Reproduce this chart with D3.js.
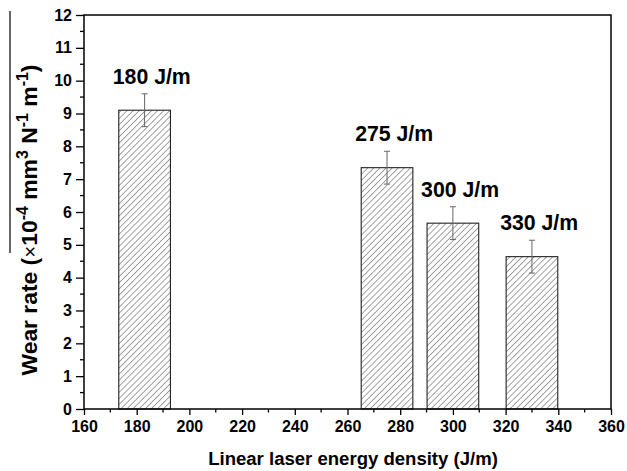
<!DOCTYPE html>
<html><head><meta charset="utf-8">
<script src="https://cdn.jsdelivr.net/npm/d3@7"></script>
<style>body{margin:0;background:#fff}svg{display:block}text{font-family:Arial,"Liberation Sans",sans-serif}</style>
</head><body>
<script>
// ---- data ----
const barX = [183, 275, 300, 330];           // bar centres (J/m)
const wearRate = [9.1, 7.35, 5.66, 4.64];     // ×10^-4 mm^3 N^-1 m^-1
const errors = [0.5, 0.5, 0.5, 0.5];
const barLabels = ["180 J/m", "275 J/m", "300 J/m", "330 J/m"];
const barWidthUnits = 19.6;
const xTicks = [160,180,200,220,240,260,280,300,320,340,360];
const yTicks = [0,1,2,3,4,5,6,7,8,9,10,11,12];

const W = 627, H = 471;
const svg = d3.select("body").append("svg").attr("width", W).attr("height", H);
const L = 84, R = 611, T = 15, B = 409;
const x = d3.scaleLinear().domain([160,360]).range([L,R]);
const y = d3.scaleLinear().domain([0,12]).range([B,T]);

// fit text to a target length by scaling its font size
function fitSize(sel, target){
  sel.each(function(){
    const fs = parseFloat(d3.select(this).attr("font-size"));
    const len = this.getComputedTextLength();
    d3.select(this).attr("font-size", fs*target/len);
  });
}

// hatch pattern
const defs = svg.append("defs");
const hs = 4.3;
const pat = defs.append("pattern").attr("id","hatch").attr("patternUnits","userSpaceOnUse")
  .attr("width",hs).attr("height",hs).attr("patternTransform","rotate(45)");
pat.append("rect").attr("width",hs).attr("height",hs).attr("fill","#fff");
pat.append("line").attr("x1",0).attr("y1",0).attr("x2",0).attr("y2",hs)
  .attr("stroke","#333").attr("stroke-width",0.9);

// bars
const data = barX.map((v,i)=>({x:v,y:wearRate[i],e:errors[i],label:barLabels[i]}));
svg.selectAll("rect.bar").data(data).join("rect").attr("class","bar")
  .attr("x", d=>x(d.x-barWidthUnits/2)).attr("width", d=>x(d.x+barWidthUnits/2)-x(d.x-barWidthUnits/2))
  .attr("y", d=>y(d.y)).attr("height", d=>y(0)-y(d.y))
  .attr("fill","url(#hatch)").attr("stroke","#222").attr("stroke-width",1.1);

// error bars
const eb = svg.selectAll("g.err").data(data).join("g").attr("class","err")
  .attr("stroke","#666").attr("stroke-width",1).attr("fill","none");
eb.append("line").attr("x1",d=>x(d.x)).attr("x2",d=>x(d.x)).attr("y1",d=>y(d.y+d.e)).attr("y2",d=>y(d.y-d.e));
eb.append("line").attr("x1",d=>x(d.x)-3).attr("x2",d=>x(d.x)+3).attr("y1",d=>y(d.y+d.e)).attr("y2",d=>y(d.y+d.e));
eb.append("line").attr("x1",d=>x(d.x)-3).attr("x2",d=>x(d.x)+3).attr("y1",d=>y(d.y-d.e)).attr("y2",d=>y(d.y-d.e));

// bar labels
svg.selectAll("text.bl").data(data).join("text").attr("class","bl")
  .attr("x", d=>x(d.x-barWidthUnits/2)-6).attr("y", d=>y(d.y+d.e)-10)
  .attr("font-size",19).attr("font-weight","bold").attr("fill","#000").text(d=>d.label)
  .call(fitSize, 78);

// axes
const xAxis = svg.append("g").attr("transform",`translate(0,${B})`)
  .call(d3.axisBottom(x).tickValues(xTicks).tickFormat(d3.format("d")).tickSize(6).tickPadding(6));
const yAxis = svg.append("g").attr("transform",`translate(${L},0)`)
  .call(d3.axisLeft(y).tickValues(yTicks).tickFormat(d3.format("d")).tickSize(8).tickPadding(4));
[xAxis,yAxis].forEach(g=>{
  g.select(".domain").remove();
  g.selectAll(".tick line").attr("stroke","#000").attr("stroke-width",1.3);
  g.selectAll(".tick text").attr("font-size",16).attr("font-weight","bold").attr("fill","#000")
   .style("font-family","Arial, 'Liberation Sans', sans-serif");
});
// minor ticks
const xMinor = d3.range(170,360,20);
svg.append("g").selectAll("line").data(xMinor).join("line")
  .attr("x1",d=>x(d)).attr("x2",d=>x(d)).attr("y1",B).attr("y2",B+3.5).attr("stroke","#000").attr("stroke-width",1.3);
const yMinor = d3.range(0.5,12,1);
svg.append("g").selectAll("line").data(yMinor).join("line")
  .attr("x1",L-4).attr("x2",L).attr("y1",d=>y(d)).attr("y2",d=>y(d)).attr("stroke","#000").attr("stroke-width",1.3);

// frame
svg.append("rect").attr("x",L).attr("y",T).attr("width",R-L).attr("height",B-T)
  .attr("fill","none").attr("stroke","#000").attr("stroke-width",1.5);

// axis titles
svg.append("text").attr("x",(208+498)/2).attr("y",465).attr("text-anchor","middle")
  .attr("font-size",18).attr("font-weight","bold").text("Linear laser energy density (J/m)")
  .call(fitSize, 290);

const yt = svg.append("text").attr("transform","translate(37,220) rotate(-90)").attr("text-anchor","middle")
  .attr("font-size",20).attr("font-weight","bold");
yt.append("tspan").text("Wear rate (");
yt.append("tspan").attr("font-weight","normal").attr("font-size","0.9em").text("×");
yt.append("tspan").text("10");
yt.append("tspan").attr("dy","-0.55em").attr("font-size","0.7em").text("-4");
yt.append("tspan").attr("dy","0.385em").text(" mm");
yt.append("tspan").attr("dy","-0.55em").attr("font-size","0.7em").text("3");
yt.append("tspan").attr("dy","0.385em").text(" N");
yt.append("tspan").attr("dy","-0.55em").attr("font-size","0.7em").text("-1");
yt.append("tspan").attr("dy","0.385em").text(" m");
yt.append("tspan").attr("dy","-0.55em").attr("font-size","0.7em").text("-1");
yt.append("tspan").attr("dy","0.385em").text(")");
yt.call(fitSize, 311);
// overline artifact
svg.append("line").attr("x1",10).attr("x2",10).attr("y1",11).attr("y2",253).attr("stroke","#000").attr("stroke-width",1.2);
</script>
</body></html>
